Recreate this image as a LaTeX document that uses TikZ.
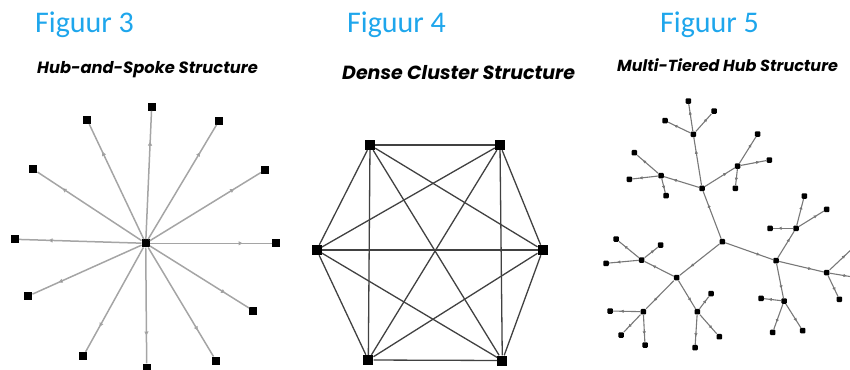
\documentclass[tikz,border=0pt]{standalone}
\usepackage{fontspec}
\newfontfamily\TitleFont{Carlito}
\newfontfamily\CaptionFont{Poppins}
\usepackage{xcolor}
\definecolor{Col1}{RGB}{30,166,236}
\definecolor{Col2}{RGB}{165,165,165}
\definecolor{Col3}{RGB}{65,65,65}
\definecolor{Col4}{RGB}{120,120,120}
\usepackage{tikz}
\usetikzlibrary{arrows.meta}
\usetikzlibrary{decorations.markings}
\tikzstyle{Title}=[font=\TitleFont\fontsize{30}{32}\selectfont,text=Col1,
    inner sep=0pt]
\tikzstyle{Caption}=[font=\CaptionFont\bfseries\itshape,inner sep=0pt]
\tikzstyle{Node}=[rectangle,fill=black,inner sep=0pt,minimum size=8pt]
\tikzstyle{BigNode}=[Node,minimum size=10pt]
\tikzstyle{SmallNode}=[Node,minimum size=5.5pt,rounded corners=1pt]
\tikzstyle{Spoke}=[draw=Col2,line width=1.5pt,
    postaction={decorate,decoration={markings,
    mark=at position .76 with {\arrow{Triangle[length=4pt,width=4pt,
    fill=Col3]}}}}]
\tikzstyle{Edge}=[draw=Col3,line width=1.3pt]
\tikzstyle{Arc}=[draw=Col4,line width=1.1pt,
    postaction={decorate,decoration={markings,
    mark=at position .72 with {\arrow{Triangle[length=3pt,width=3pt,
    fill=Col3]}}}}]

\begin{document}
\begin{tikzpicture}[x=1pt,y=-1pt]
            \useasboundingbox (0,0) rectangle (850,369);
            % headings
            \node[Title,anchor=west](t3)at(35,25){Figuur 3};
            \node[Title,anchor=west](t4)at(347,25){Figuur 4};
            \node[Title,anchor=west](t5)at(660,25){Figuur 5};
            \node[Caption,anchor=west,font=\CaptionFont\bfseries\itshape
                \fontsize{16.3}{18}\selectfont](k3)at(37,70)
                {Hub-and-Spoke Structure};
            \node[Caption,anchor=west,font=\CaptionFont\bfseries\itshape
                \fontsize{19}{21}\selectfont](k4)at(342,73)
                {Dense Cluster Structure};
            \node[Caption,anchor=west,font=\CaptionFont\bfseries\itshape
                \fontsize{16}{18}\selectfont](k5)at(617,65)
                {Multi-Tiered Hub Structure};
            %
            % hub and spokes
            \node[Node](h)at(145.70,243.30){};
            \node[Node](s1)at(151.70,106.70){};
            \node[Node](s2)at(87.30,120.00){};
            \node[Node](s3)at(219.00,120.70){};
            \node[Node](s4)at(33.30,169.30){};
            \node[Node](s5)at(265.00,170.00){};
            \node[Node](s6)at(15.00,239.30){};
            \node[Node](s7)at(276.00,243.30){};
            \node[Node](s8)at(28.30,296.00){};
            \node[Node](s9)at(253.30,310.70){};
            \node[Node](s10)at(83.30,356.00){};
            \node[Node](s11)at(216.00,360.70){};
            \node[Node](s12)at(146.70,367.50){};
            \draw[Spoke](h)--(s1);
            \draw[Spoke](h)--(s2);
            \draw[Spoke](h)--(s3);
            \draw[Spoke](h)--(s4);
            \draw[Spoke](h)--(s5);
            \draw[Spoke](h)--(s6);
            \draw[Spoke](h)--(s7);
            \draw[Spoke](h)--(s8);
            \draw[Spoke](h)--(s9);
            \draw[Spoke](h)--(s10);
            \draw[Spoke](h)--(s11);
            \draw[Spoke](h)--(s12);
            %
            % dense cluster
            \node[BigNode](c1)at(370.00,145.00){};
            \node[BigNode](c2)at(500.00,145.00){};
            \node[BigNode](c3)at(542.70,250.00){};
            \node[BigNode](c4)at(502.30,360.50){};
            \node[BigNode](c5)at(368.30,360.00){};
            \node[BigNode](c6)at(316.70,250.00){};
            \draw[Edge](c1)--(c2);
            \draw[Edge](c1)--(c3);
            \draw[Edge](c1)--(c4);
            \draw[Edge](c1)--(c5);
            \draw[Edge](c1)--(c6);
            \draw[Edge](c2)--(c3);
            \draw[Edge](c2)--(c4);
            \draw[Edge](c2)--(c5);
            \draw[Edge](c2)--(c6);
            \draw[Edge](c3)--(c4);
            \draw[Edge](c3)--(c5);
            \draw[Edge](c3)--(c6);
            \draw[Edge](c4)--(c5);
            \draw[Edge](c4)--(c6);
            \draw[Edge](c5)--(c6);
            %
            % tiered hubs
            \node[SmallNode](r)at(722.30,241.70){};
            \node[SmallNode](a)at(702.00,188.30){};
            \node[SmallNode](b)at(676.70,277.70){};
            \node[SmallNode](c)at(776.00,260.70){};
            \node[SmallNode](a1)at(693.30,134.30){};
            \node[SmallNode](a2)at(661.00,175.70){};
            \node[SmallNode](a3)at(737.70,166.00){};
            \node[SmallNode](b1)at(641.70,260.00){};
            \node[SmallNode](b2)at(643.30,311.70){};
            \node[SmallNode](b3)at(697.30,311.70){};
            \node[SmallNode](c1)at(796.00,228.30){};
            \node[SmallNode](c2)at(826.70,272.70){};
            \node[SmallNode](c3)at(784.00,301.00){};
            \node[SmallNode](a11)at(688.30,101.00){};
            \node[SmallNode](a12)at(665.00,120.70){};
            \node[SmallNode](a13)at(714.00,111.00){};
            \node[SmallNode](a21)at(634.30,152.70){};
            \node[SmallNode](a22)at(629.30,179.30){};
            \node[SmallNode](a23)at(666.00,195.70){};
            \node[SmallNode](a31)at(757.70,134.00){};
            \node[SmallNode](a32)at(769.30,160.00){};
            \node[SmallNode](a33)at(735.30,188.30){};
            \node[SmallNode](b11)at(616.00,239.00){};
            \node[SmallNode](b12)at(660.70,245.00){};
            \node[SmallNode](b13)at(606.00,263.30){};
            \node[SmallNode](b21)at(610.00,311.00){};
            \node[SmallNode](b22)at(621.00,335.00){};
            \node[SmallNode](b23)at(645.00,345.00){};
            \node[SmallNode](b31)at(711.00,293.70){};
            \node[SmallNode](b32)at(719.30,336.70){};
            \node[SmallNode](b33)at(695.00,347.70){};
            \node[SmallNode](c11)at(804.30,196.00){};
            \node[SmallNode](c12)at(826.70,209.30){};
            \node[SmallNode](c13)at(770.00,228.30){};
            \node[SmallNode](c21)at(854.00,247.00){};
            \node[SmallNode](c22)at(856.00,277.50){};
            \node[SmallNode](c23)at(839.30,299.30){};
            \node[SmallNode](c31)at(761.00,298.30){};
            \node[SmallNode](c32)at(772.70,332.30){};
            \node[SmallNode](c33)at(802.70,330.70){};
            \draw[Arc](r)--(a);
            \draw[Arc](r)--(b);
            \draw[Arc](r)--(c);
            \draw[Arc](a)--(a1);
            \draw[Arc](a)--(a2);
            \draw[Arc](a)--(a3);
            \draw[Arc](b)--(b1);
            \draw[Arc](b)--(b2);
            \draw[Arc](b)--(b3);
            \draw[Arc](c)--(c1);
            \draw[Arc](c)--(c2);
            \draw[Arc](c)--(c3);
            \draw[Arc](a1)--(a11);
            \draw[Arc](a1)--(a12);
            \draw[Arc](a1)--(a13);
            \draw[Arc](a2)--(a21);
            \draw[Arc](a2)--(a22);
            \draw[Arc](a2)--(a23);
            \draw[Arc](a3)--(a31);
            \draw[Arc](a3)--(a32);
            \draw[Arc](a3)--(a33);
            \draw[Arc](b1)--(b11);
            \draw[Arc](b1)--(b12);
            \draw[Arc](b1)--(b13);
            \draw[Arc](b2)--(b21);
            \draw[Arc](b2)--(b22);
            \draw[Arc](b2)--(b23);
            \draw[Arc](b3)--(b31);
            \draw[Arc](b3)--(b32);
            \draw[Arc](b3)--(b33);
            \draw[Arc](c1)--(c11);
            \draw[Arc](c1)--(c12);
            \draw[Arc](c1)--(c13);
            \draw[Arc](c2)--(c21);
            \draw[Arc](c2)--(c22);
            \draw[Arc](c2)--(c23);
            \draw[Arc](c3)--(c31);
            \draw[Arc](c3)--(c32);
            \draw[Arc](c3)--(c33);
        \end{tikzpicture}
\end{document}
